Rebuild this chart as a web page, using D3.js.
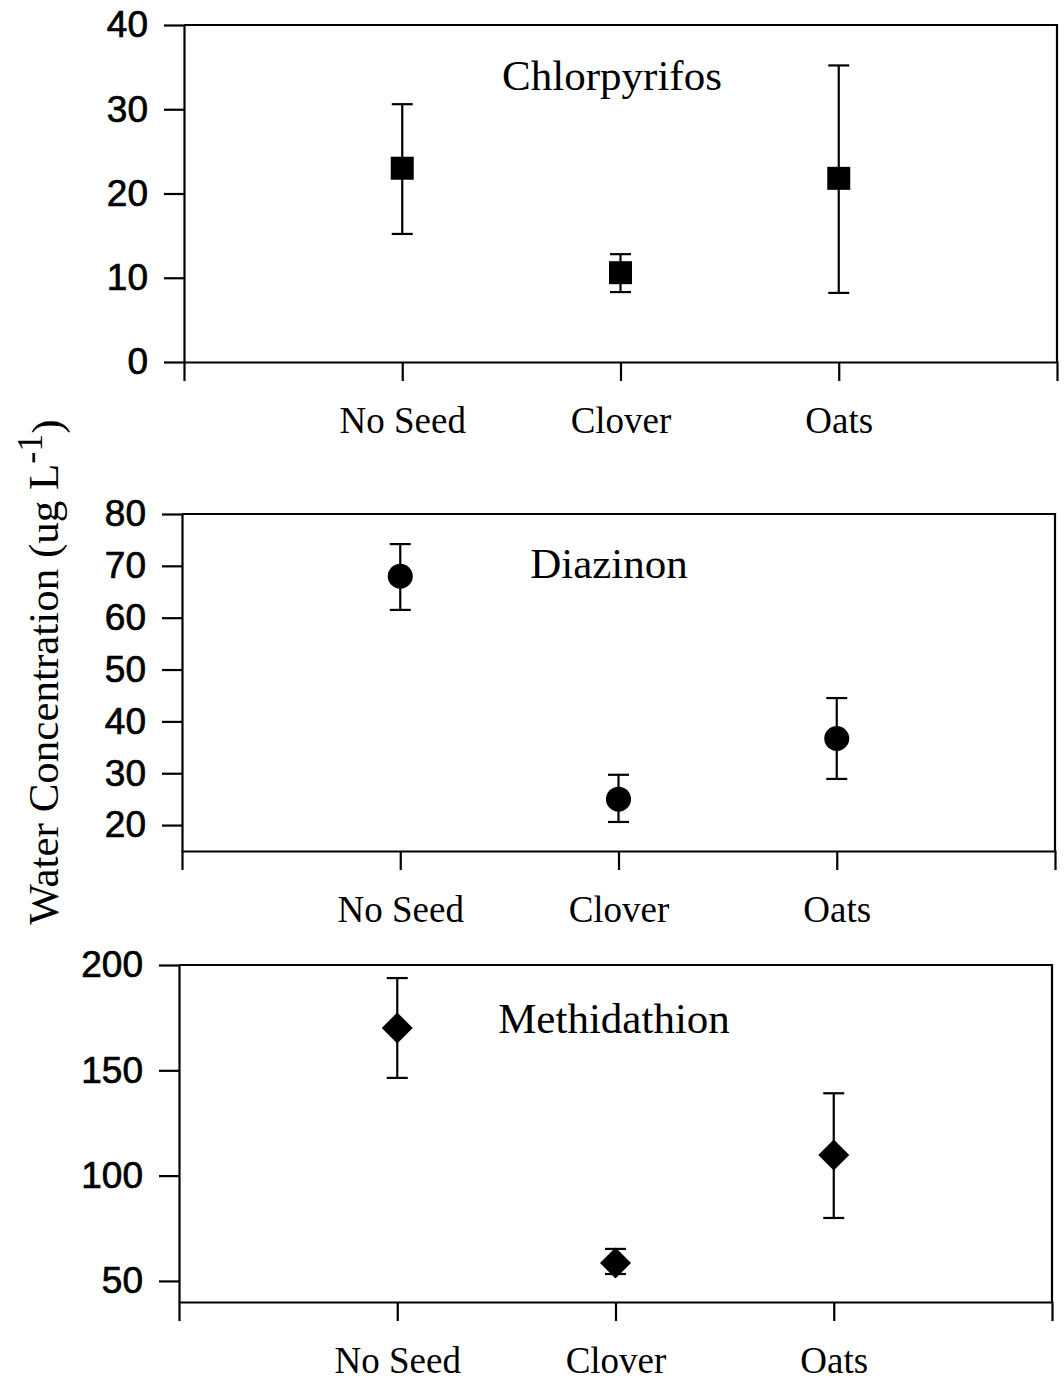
<!DOCTYPE html>
<html>
<head>
<meta charset="utf-8">
<script src="https://cdn.jsdelivr.net/npm/d3@7"></script>
<style>
  html, body { margin: 0; padding: 0; background: #fff; }
  svg { display: block; }
</style>
</head>
<body>
<script>
// ---- data ----
const categories = ["No Seed", "Clover", "Oats"];

const chlorpyrifosMean = [23.0, 10.6, 21.8];
const chlorpyrifosLow  = [15.2, 8.3, 8.2];
const chlorpyrifosHigh = [30.6, 12.8, 35.2];

const diazinonMean = [68.0, 25.0, 36.7];
const diazinonLow  = [61.5, 20.6, 28.9];
const diazinonHigh = [74.2, 29.7, 44.5];

const methidathionMean = [170.1, 58.5, 109.8];
const methidathionLow  = [146.4, 53.3, 79.9];
const methidathionHigh = [193.8, 65.2, 139.1];

const chlorpyrifosTicks = [0, 10, 20, 30, 40];
const diazinonTicks = [20, 30, 40, 50, 60, 70, 80];
const methidathionTicks = [50, 100, 150, 200];

const panels = [
  { title: "Chlorpyrifos", mean: chlorpyrifosMean, low: chlorpyrifosLow, high: chlorpyrifosHigh,
    domain: [0, 40], ticks: chlorpyrifosTicks, symbol: d3.symbolSquare, symSize: 23 * 23,
    left: 184, top: 25, titleX: 612, titleDy: 65 },
  { title: "Diazinon", mean: diazinonMean, low: diazinonLow, high: diazinonHigh,
    domain: [15, 80], ticks: diazinonTicks, symbol: d3.symbolCircle, symSize: Math.PI * 12.5 * 12.5,
    left: 182, top: 514, titleX: 609, titleDy: 64 },
  { title: "Methidathion", mean: methidathionMean, low: methidathionLow, high: methidathionHigh,
    domain: [40, 200], ticks: methidathionTicks, symbol: d3.symbolDiamond, symSize: 0,
    left: 179, top: 965, titleX: 614, titleDy: 68 }
];

const W = 1064, H = 1387;
const PW = 873, PH = 337;

const svg = d3.select("body").append("svg")
  .attr("width", W).attr("height", H)
  .attr("viewBox", `0 0 ${W} ${H}`);

const serif = "'Liberation Serif', 'Times New Roman', serif";
const sans = "'Liberation Sans', Arial, sans-serif";

panels.forEach(p => {
  const x = d3.scalePoint().domain(categories).range([p.left, p.left + PW]).padding(1);
  const y = d3.scaleLinear().domain(p.domain).range([p.top + PH, p.top]);
  const g = svg.append("g");

  // box top & right
  g.append("path")
    .attr("d", `M${p.left},${p.top}H${p.left + PW}V${p.top + PH}`)
    .attr("fill", "none").attr("stroke", "#000").attr("stroke-width", 2.2);

  // y axis
  const ya = g.append("g")
    .attr("transform", `translate(${p.left},0)`)
    .call(d3.axisLeft(y).tickValues(p.ticks).tickSize(20).tickSizeOuter(0).tickPadding(16));
  ya.selectAll("path, line").attr("stroke", "#000").attr("stroke-width", 2.2);
  ya.selectAll("text").attr("font-family", sans).attr("font-size", 37).attr("fill", "#000")
    .attr("stroke", "#000").attr("stroke-width", 0.7);

  // x axis
  const xa = g.append("g")
    .attr("transform", `translate(0,${p.top + PH})`)
    .call(d3.axisBottom(x).tickSize(19).tickSizeOuter(19).tickPadding(33));
  xa.selectAll("path, line").attr("stroke", "#000").attr("stroke-width", 2.2);
  xa.selectAll("text").attr("font-family", serif).attr("font-size", 37).attr("fill", "#000")
    .attr("dy", "0.5em");

  // title
  g.append("text")
    .attr("x", p.titleX).attr("y", p.top + p.titleDy)
    .attr("text-anchor", "middle")
    .attr("font-family", serif).attr("font-size", 43)
    .text(p.title);

  // error bars and markers
  categories.forEach((c, i) => {
    const cx = x(c);
    const capW = 10.5;
    g.append("line").attr("x1", cx).attr("x2", cx)
      .attr("y1", y(p.low[i])).attr("y2", y(p.high[i]))
      .attr("stroke", "#000").attr("stroke-width", 2.2);
    [p.low[i], p.high[i]].forEach(v => {
      g.append("line").attr("x1", cx - capW).attr("x2", cx + capW)
        .attr("y1", y(v)).attr("y2", y(v))
        .attr("stroke", "#000").attr("stroke-width", 2.2);
    });
    if (p.symbol === d3.symbolDiamond) {
      const r = 15.5;
      const cy = y(p.mean[i]);
      g.append("path")
        .attr("d", `M${cx},${cy - r}L${cx + r},${cy}L${cx},${cy + r}L${cx - r},${cy}Z`)
        .attr("fill", "#000");
    } else {
      g.append("path")
        .attr("transform", `translate(${cx},${y(p.mean[i])})`)
        .attr("d", d3.symbol().type(p.symbol).size(p.symSize)())
        .attr("fill", "#000");
    }
  });
});

// y axis label
const yl = svg.append("text")
  .attr("transform", "translate(58,672) rotate(-90)")
  .attr("text-anchor", "middle")
  .attr("font-family", serif).attr("font-size", 43).attr("fill", "#000");
yl.append("tspan").text("Water Concentration (ug L");
yl.append("tspan").attr("dy", "-0.45em").attr("font-size", 36).text("-1");
yl.append("tspan").attr("dy", "0.45em").text(")");
</script>
</body>
</html>
